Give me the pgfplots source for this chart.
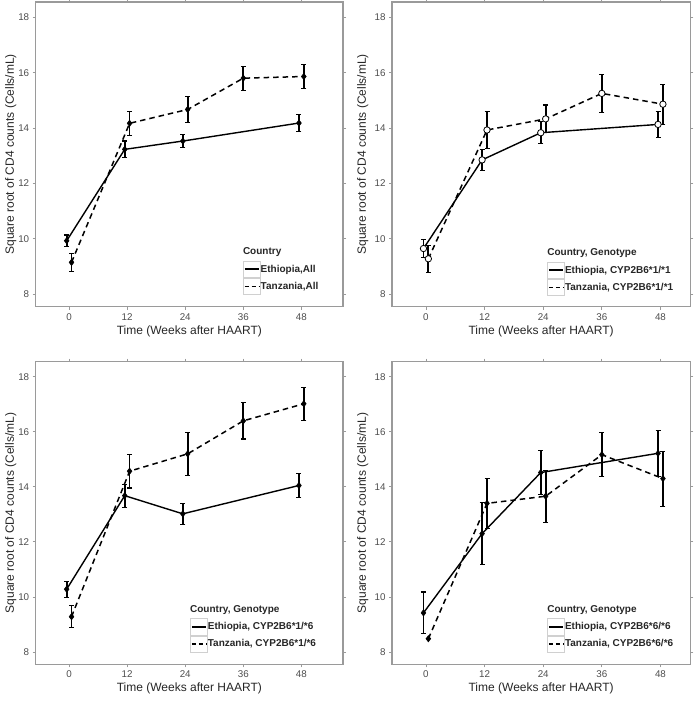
\documentclass[border=0pt]{standalone}
\usepackage{pgfplots}
\pgfplotsset{compat=1.18}
\usepackage{fontspec}
\setmainfont{Liberation Sans}
\definecolor{tickgray}{HTML}{4D4D4D}
\definecolor{framegray}{HTML}{9A9A9A}
\definecolor{titlegray}{HTML}{262626}
\definecolor{keygray}{HTML}{D0D0D0}

\pgfplotsset{
  common/.style={
    scale only axis,
    anchor=south west,
    ymin=7.55, ymax=18.55,
    ytick={8,10,12,14,16,18},
    xtick={0,12,24,36,48},
    axis line style={framegray, line width=1.2pt},
    tick align=outside,
    major tick length=3pt,
    tick style={framegray, line width=0.8pt},
    ticklabel style={font=\fontsize{9.8}{10}\selectfont, text=tickgray},
    /pgf/number format/assume math mode=true,
    xlabel={Time (Weeks after HAART)},
    ylabel={Square root of CD4 counts (Cells/mL)},
    label style={font=\fontsize{12}{13}\selectfont, text=titlegray},
    xlabel style={at={(rel axis cs:0.5,0)}, anchor=center, yshift=-24.3pt},
    legend image code/.code={
      \draw[draw=keygray, line width=0.6pt, solid, fill=white] (0pt,-8.3pt) rectangle (17.3pt,8.3pt);
      \draw[##1] (1.5pt,0pt) -- (15.8pt,0pt);
    },
    legend style={draw=none, fill=none, inner sep=0pt, outer sep=0pt,
      font=\bfseries\fontsize{10}{11}\selectfont, text=titlegray, row sep=0pt,
      nodes={inner sep=0pt}},
    legend cell align=left,
    legend style={/tikz/every even column/.append style={column sep=2.5pt}},
  },
  errs/.style={
    error bars/y dir=both, error bars/y explicit,
    error bars/error bar style={line width=1.8pt, solid},
    error bars/error mark options={rotate=90, mark size=2.5pt, line width=1.1pt, solid}},
  eth/.style={black, solid, line width=1.4pt, mark=diamond*, mark size=3.2pt,
    mark options={solid, fill=black, line width=0.5pt}, errs},
  tan/.style={black, line width=1.5pt, dash pattern=on 5.5pt off 4pt, mark=diamond*, mark size=3.2pt,
    mark options={solid, fill=black, line width=0.5pt}, errs},
  openmk/.style={mark=*, mark size=3.2pt, mark options={solid, fill=white, draw=black, line width=0.8pt}},
}

\begin{document}
\begin{tikzpicture}
\path[use as bounding box] (0,0) rectangle (697pt,701pt);

% ---------------- Panel 1 ----------------
\begin{axis}[common, at={(35.7pt,394.3pt)}, width=307.3pt, height=304.7pt,
  xmin=-6.9, xmax=56.6,
  ylabel style={at={(rel axis cs:0,0.5)}, anchor=center, yshift=25pt},
  legend style={at={(rel axis cs:0.674,0.151)}, anchor=north west}]
\addplot+[eth, forget plot] coordinates {
  (-0.5,9.93) +- (0,0.21)
  (11.5,13.23) +- (0,0.30)
  (23.5,13.53) +- (0,0.24)
  (47.5,14.18) +- (0,0.30)
};
\addplot+[tan, forget plot] coordinates {
  (0.5,9.15) +- (0,0.32)
  (12.5,14.17) +- (0,0.44)
  (24.5,14.67) +- (0,0.47)
  (36,15.80) +- (0,0.43)
  (48.5,15.86) +- (0,0.44)
};
\addlegendimage{black, solid, line width=1.6pt}
\addlegendentry{Ethiopia,All}
\addlegendimage{black, line width=1.6pt, dash pattern=on 4pt off 3pt}
\addlegendentry{Tanzania,All}
\node[anchor=west, inner sep=0pt, font=\bfseries\fontsize{10}{11}\selectfont, text=titlegray]
  at (rel axis cs:0.674,0.179) {Country};
\end{axis}

% ---------------- Panel 2 ----------------
\begin{axis}[common, at={(392pt,394.3pt)}, width=298.3pt, height=304.7pt,
  xmin=-6.94, xmax=54.1,
  ylabel style={at={(rel axis cs:0,0.5)}, anchor=center, yshift=29.3pt},
  legend style={at={(rel axis cs:0.52,0.148)}, anchor=north west}]
\addplot+[eth, openmk, forget plot] coordinates {
  (-0.5,9.65) +- (0,0.33)
  (11.5,12.85) +- (0,0.39)
  (23.5,13.83) +- (0,0.39)
  (47.5,14.13) +- (0,0.46)
};
\addplot+[tan, openmk, forget plot] coordinates {
  (0.5,9.28) +- (0,0.48)
  (12.5,13.93) +- (0,0.68)
  (24.5,14.33) +- (0,0.50)
  (36,15.25) +- (0,0.68)
  (48.5,14.86) +- (0,0.72)
};
\addlegendimage{black, solid, line width=1.6pt}
\addlegendentry{Ethiopia, CYP2B6*1/*1}
\addlegendimage{black, line width=1.6pt, dash pattern=on 4pt off 3pt}
\addlegendentry{Tanzania, CYP2B6*1/*1}
\node[anchor=west, inner sep=0pt, font=\bfseries\fontsize{10}{11}\selectfont, text=titlegray]
  at (rel axis cs:0.52,0.176) {Country, Genotype};
\end{axis}

% ---------------- Panel 3 ----------------
\begin{axis}[common, at={(35.7pt,36.7pt)}, width=307.3pt, height=302.6pt,
  xmin=-6.9, xmax=56.6,
  ylabel style={at={(rel axis cs:0,0.5)}, anchor=center, yshift=25pt},
  legend style={at={(rel axis cs:0.502,0.152)}, anchor=north west}]
\addplot+[eth, forget plot] coordinates {
  (-0.5,10.28) +- (0,0.29)
  (11.5,13.68) +- (0,0.42)
  (23.5,13.02) +- (0,0.38)
  (47.5,14.05) +- (0,0.45)
};
\addplot+[tan, forget plot] coordinates {
  (0.5,9.28) +- (0,0.40)
  (12.5,14.57) +- (0,0.61)
  (24.5,15.20) +- (0,0.78)
  (36,16.40) +- (0,0.66)
  (48.5,17.02) +- (0,0.60)
};
\addlegendimage{black, solid, line width=1.6pt}
\addlegendentry{Ethiopia, CYP2B6*1/*6}
\addlegendimage{black, line width=1.6pt, dash pattern=on 4pt off 3pt}
\addlegendentry{Tanzania, CYP2B6*1/*6}
\node[anchor=west, inner sep=0pt, font=\bfseries\fontsize{10}{11}\selectfont, text=titlegray]
  at (rel axis cs:0.502,0.18) {Country, Genotype};
\end{axis}

% ---------------- Panel 4 ----------------
\begin{axis}[common, at={(392pt,36.7pt)}, width=298.3pt, height=302.6pt,
  xmin=-6.94, xmax=54.1,
  ylabel style={at={(rel axis cs:0,0.5)}, anchor=center, yshift=29.3pt},
  legend style={at={(rel axis cs:0.52,0.152)}, anchor=north west}]
\addplot+[eth, forget plot] coordinates {
  (-0.5,9.42) +- (0,0.76)
  (11.5,12.30) +- (0,1.12)
  (23.5,14.52) +- (0,0.80)
  (47.5,15.22) +- (0,0.84)
};
\addplot+[tan, forget plot] coordinates {
  (0.5,8.48) +- (0,0)
  (12.5,13.40) +- (0,0.90)
  (24.5,13.66) +- (0,0.94)
  (36,15.17) +- (0,0.80)
  (48.5,14.30) +- (0,1.00)
};
\addlegendimage{black, solid, line width=1.6pt}
\addlegendentry{Ethiopia, CYP2B6*6/*6}
\addlegendimage{black, line width=1.6pt, dash pattern=on 4pt off 3pt}
\addlegendentry{Tanzania, CYP2B6*6/*6}
\node[anchor=west, inner sep=0pt, font=\bfseries\fontsize{10}{11}\selectfont, text=titlegray]
  at (rel axis cs:0.52,0.18) {Country, Genotype};
\end{axis}
\end{tikzpicture}
\end{document}
